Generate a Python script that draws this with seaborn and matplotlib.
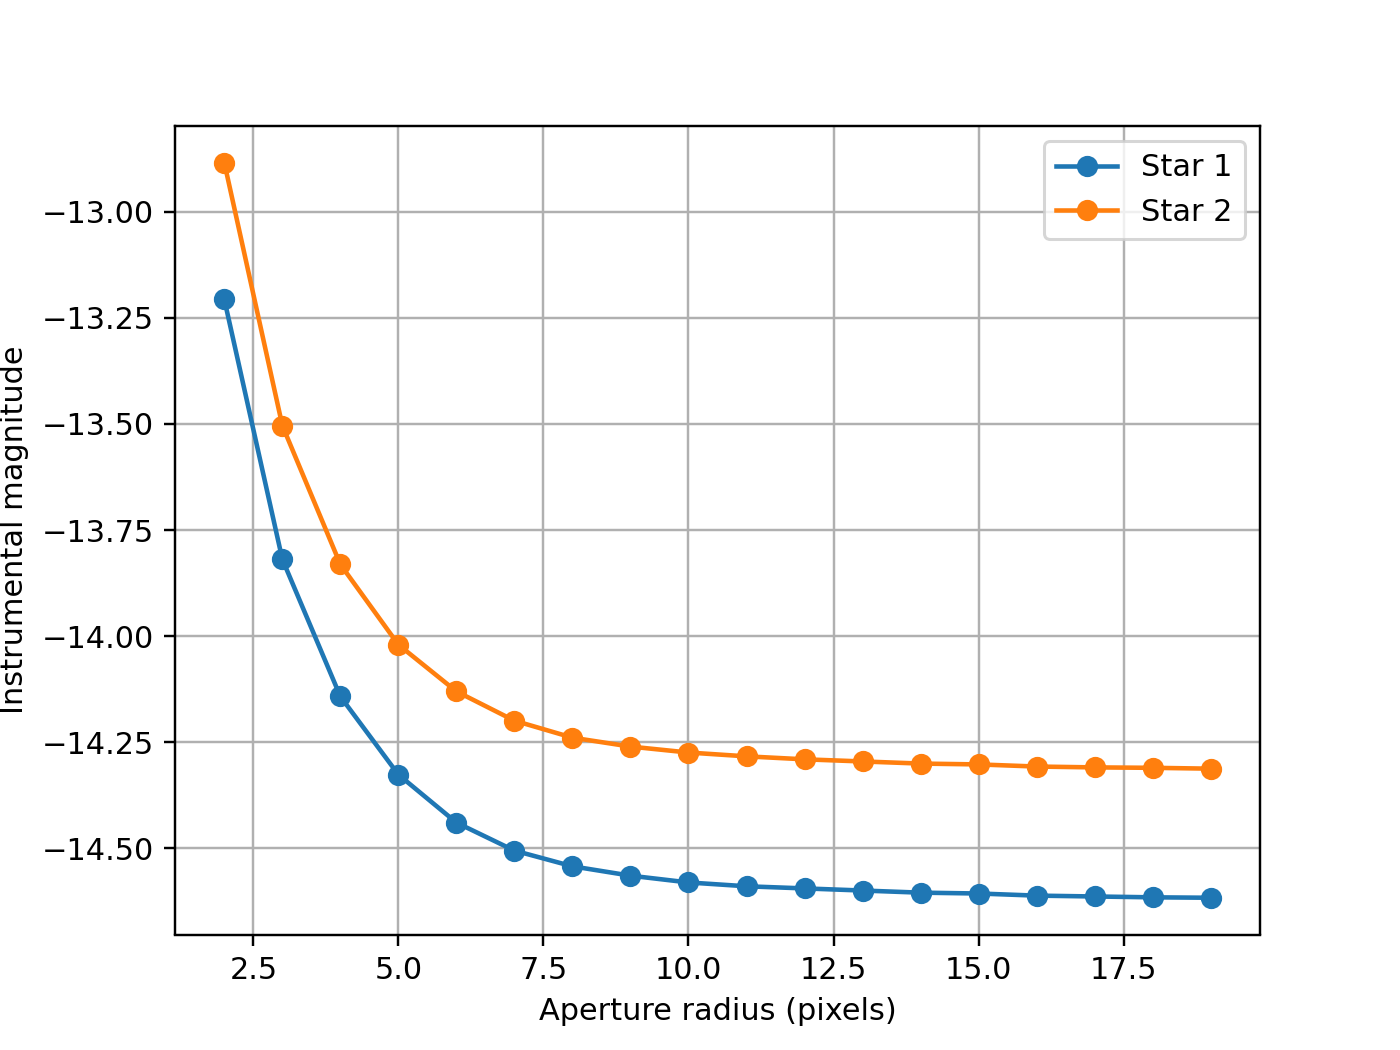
import numpy as np
import pandas as pd
import matplotlib
matplotlib.use("Agg")
import matplotlib.pyplot as plt
import seaborn as sns

# Aperture radii and magnitudes
radius = list(range(2, 20))
star1 = [-13.207, -13.819, -14.142, -14.326, -14.439, -14.505, -14.542, -14.564, -14.580,
         -14.589, -14.594, -14.599, -14.604, -14.606, -14.611, -14.613, -14.615, -14.616]
star2 = [-12.885, -13.504, -13.831, -14.020, -14.130, -14.199, -14.239, -14.260, -14.274,
         -14.283, -14.290, -14.295, -14.300, -14.302, -14.307, -14.309, -14.310, -14.312]

df = pd.DataFrame({"radius": radius + radius,
                   "mag": star1 + star2,
                   "star": ["Star 1"] * len(radius) + ["Star 2"] * len(radius)})

fig, ax = plt.subplots(figsize=(6.4, 4.8), dpi=218.75)

colors = {"Star 1": "#1f77b4", "Star 2": "#ff7f0e"}
for name, grp in df.groupby("star"):
    sns.lineplot(data=grp, x="radius", y="mag", ax=ax, color=colors[name], label=name,
                 marker="o", markersize=6, markeredgecolor=colors[name], markeredgewidth=1,
                 linewidth=1.5)

ax.set_xlabel("Aperture radius (pixels)")
ax.set_ylabel("Instrumental magnitude")
ax.grid(True)
ax.legend(loc="upper right")

fig.savefig("out.png", dpi=218.75)
